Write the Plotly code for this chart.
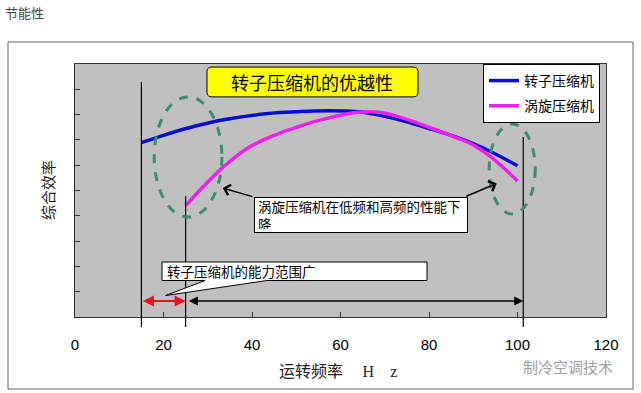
import plotly.graph_objects as go

# ---------------- data ----------------
freq_ticks = [0, 20, 40, 60, 80, 100, 120]

rotary_name = "转子压缩机"
rotary_x = [15, 20, 23.7, 27.5, 31.3, 35, 38.8, 42.5, 46.3, 50, 54, 57.5, 61.4, 65, 69, 72.5, 80, 86, 90, 94, 100]
rotary_y = [6.89, 7.18, 7.38, 7.56, 7.72, 7.84, 7.94, 8.02, 8.08, 8.11, 8.14, 8.15, 8.14, 8.09, 7.97, 7.83, 7.45, 7.12, 6.85, 6.53, 5.98]

scroll_name = "涡旋压缩机"
scroll_x = [25, 28.2, 31.3, 33.5, 36.5, 38.8, 42.6, 46.3, 50.1, 53.9, 57.6, 61.4, 63.7, 66.7, 69, 72.5, 80, 86, 90, 94, 100]
scroll_y = [4.40, 5.01, 5.56, 5.93, 6.36, 6.65, 7.00, 7.27, 7.50, 7.71, 7.88, 8.02, 8.08, 8.11, 8.08, 7.95, 7.50, 7.10, 6.80, 6.33, 5.38]

# range markers (Hz)
marker_x = [15, 25, 101.3]

# ---------------- style ----------------
CJK = "Noto Sans CJK SC"
W, H = 641, 393
L, R, T, B = 75, 35, 64, 76
PW, PH = W - L - R, H - T - B

def px_to_paper(px, py):
    return (px - L) / PW, (H - B - py) / PH

fig = go.Figure()
fig.add_trace(go.Scatter(
    x=rotary_x, y=rotary_y, mode="lines", name=rotary_name, legendgroup="a",
    line=dict(color="#0c0cd0", width=3.5, shape="spline", smoothing=1.0)))
fig.add_trace(go.Scatter(
    x=scroll_x, y=scroll_y, mode="lines", name=scroll_name, legendgroup="b",
    line=dict(color="#f020f0", width=3.5, shape="spline", smoothing=1.0)))

shapes = []
# outer frame
fx0, fy1 = px_to_paper(8, 42)
fx1, fy0 = px_to_paper(633, 389)
shapes.append(dict(type="rect", xref="paper", yref="paper", x0=fx0, x1=fx1, y0=fy0, y1=fy1,
                   line=dict(color="#666666", width=1), layer="below"))

# vertical range-marker lines
vtops = [px_to_paper(0, 82)[1], px_to_paper(0, 196)[1], px_to_paper(0, 137)[1]]
vbot = px_to_paper(0, 327)[1]
for xv, yt in zip(marker_x, vtops):
    shapes.append(dict(type="line", xref="x", yref="paper", x0=xv, x1=xv, y0=vbot, y1=yt,
                       line=dict(color="black", width=1.2)))

# dashed ellipses
ell_style = dict(color="#3e8c6e", width=3, dash="dash")
shapes.append(dict(type="circle", xref="x", yref="y", x0=17.9, x1=33.2, y0=3.95, y1=8.70,
                   line=ell_style))
shapes.append(dict(type="circle", xref="x", yref="y", x0=93.6, x1=104.0, y0=4.07, y1=7.63,
                   line=ell_style))

# rounded yellow title box
bx0, bx1, by0, by1 = 29.83, 77.51, 8.70, 9.88
rx, ry = 1.1, 0.19
path = (f"M{bx0+rx},{by1} L{bx1-rx},{by1} Q{bx1},{by1} {bx1},{by1-ry} "
        f"L{bx1},{by0+ry} Q{bx1},{by0} {bx1-rx},{by0} L{bx0+rx},{by0} "
        f"Q{bx0},{by0} {bx0},{by0+ry} L{bx0},{by1-ry} Q{bx0},{by1} {bx0+rx},{by1} Z")
shapes.append(dict(type="path", xref="x", yref="y", path=path, fillcolor="#ffff00",
                   line=dict(color="black", width=1)))

# callout box with wedge
cx0, cx1, cy0, cy1 = 19.66, 79.55, 1.443, 2.174
callout = (f"M{cx0},{cy1} L{cx1},{cy1} L{cx1},{cy0} L43.4,{cy0} L20.5,0.85 "
           f"L29.4,{cy0} L{cx0},{cy0} Z")
shapes.append(dict(type="path", xref="x", yref="y", path=callout, fillcolor="white",
                   line=dict(color="black", width=1)))

annotations = []
# page title
tx, ty = px_to_paper(3, 12)
annotations.append(dict(text="节能性", xref="paper", yref="paper", x=tx, y=ty, xanchor="left",
                        yanchor="middle", showarrow=False, font=dict(family=CJK, size=13, color="#444")))
# chart title
annotations.append(dict(text="转子压缩机的优越性", xref="x", yref="y", x=(bx0 + bx1) / 2, y=(by0 + by1) / 2,
                        showarrow=False, font=dict(family=CJK, size=18, color="black")))
# scroll note box
annotations.append(dict(text="涡旋压缩机在低频和高频的性能下<br>降", xref="x", yref="y", x=64.6, y=4.03,
                        showarrow=False, align="left", width=206, height=28, borderpad=3,
                        bgcolor="white", bordercolor="black", borderwidth=1,
                        font=dict(family=CJK, size=13.5, color="black")))
# callout text
annotations.append(dict(text="转子压缩机的能力范围广", xref="x", yref="y", x=20.3, y=1.82,
                        xanchor="left", showarrow=False, font=dict(family=CJK, size=13.5, color="black")))
# open arrows to ellipses
for hx, hy, tx_, ty_ in [(33.4, 5.10, 40.45, 4.74), (95.3, 5.28, 88.1, 4.75)]:
    annotations.append(dict(text="", x=hx, y=hy, ax=tx_, ay=ty_, xref="x", yref="y", axref="x", ayref="y",
                            showarrow=True, arrowhead=4, arrowsize=1.4, arrowwidth=1.5, arrowcolor="black"))
# red double arrow (15-25)
arrow_y = 0.632
annotations.append(dict(text="", x=marker_x[1], y=arrow_y, ax=marker_x[0], ay=arrow_y, xref="x", yref="y",
                        axref="x", ayref="y", showarrow=True, arrowhead=2, arrowside="end+start",
                        arrowsize=1, arrowwidth=2.2, arrowcolor="#e8141e"))
# black double arrow (25-100)
annotations.append(dict(text="", x=marker_x[2], y=arrow_y, ax=25.4, ay=arrow_y, xref="x", yref="y",
                        axref="x", ayref="y", showarrow=True, arrowhead=2, arrowside="end+start",
                        arrowsize=1.2, arrowwidth=1.5, arrowcolor="black"))
# axis titles
ax_x, ax_y = px_to_paper(338, 370)
annotations.append(dict(text="运转频率　 <span style='font-family:Liberation Serif'>H　z</span>",
                        xref="paper", yref="paper", x=ax_x, y=ax_y, xanchor="center", yanchor="middle",
                        showarrow=False, font=dict(family=CJK, size=16, color="#222")))
ay_x, ay_y = px_to_paper(47, 190)
annotations.append(dict(text="综合效率", xref="paper", yref="paper", x=ay_x, y=ay_y, textangle=-90,
                        xanchor="center", yanchor="middle",
                        showarrow=False, font=dict(family=CJK, size=15, color="#222")))
# watermark
wx, wy = px_to_paper(568, 366)
annotations.append(dict(text="制冷空调技术", xref="paper", yref="paper", x=wx, y=wy, showarrow=False,
                        xanchor="center", yanchor="middle",
                        font=dict(family=CJK, size=15, color="#a0a0a0")))

fig.update_layout(
    width=W, height=H, margin=dict(l=L, r=R, t=T, b=B, pad=0),
    paper_bgcolor="white", plot_bgcolor="#c0c0c0",
    shapes=shapes, annotations=annotations,
    showlegend=True,
    legend=dict(x=px_to_paper(483, 0)[0], y=1.0, xanchor="left", yanchor="top",
                bgcolor="white", bordercolor="black", borderwidth=1,
                font=dict(family=CJK, size=14, color="black"),
                traceorder="grouped", tracegroupgap=4),
    xaxis=dict(range=[0, 120], tickvals=freq_ticks, ticks="inside", ticklen=5, tickcolor="#333",
               showline=True, linecolor="#333", linewidth=1, mirror=True, showgrid=False, zeroline=False,
               ticklabelstandoff=14,
               tickfont=dict(family="Liberation Sans", size=15, color="black")),
    yaxis=dict(range=[0, 10], dtick=1, ticks="inside", ticklen=5, tickcolor="#333",
               showticklabels=False, showline=True, linecolor="#333", linewidth=1, mirror=True,
               showgrid=False, zeroline=False),
)

fig.write_html("out.html", config={"displayModeBar": False},
               post_script="document.body.style.margin='0';")
